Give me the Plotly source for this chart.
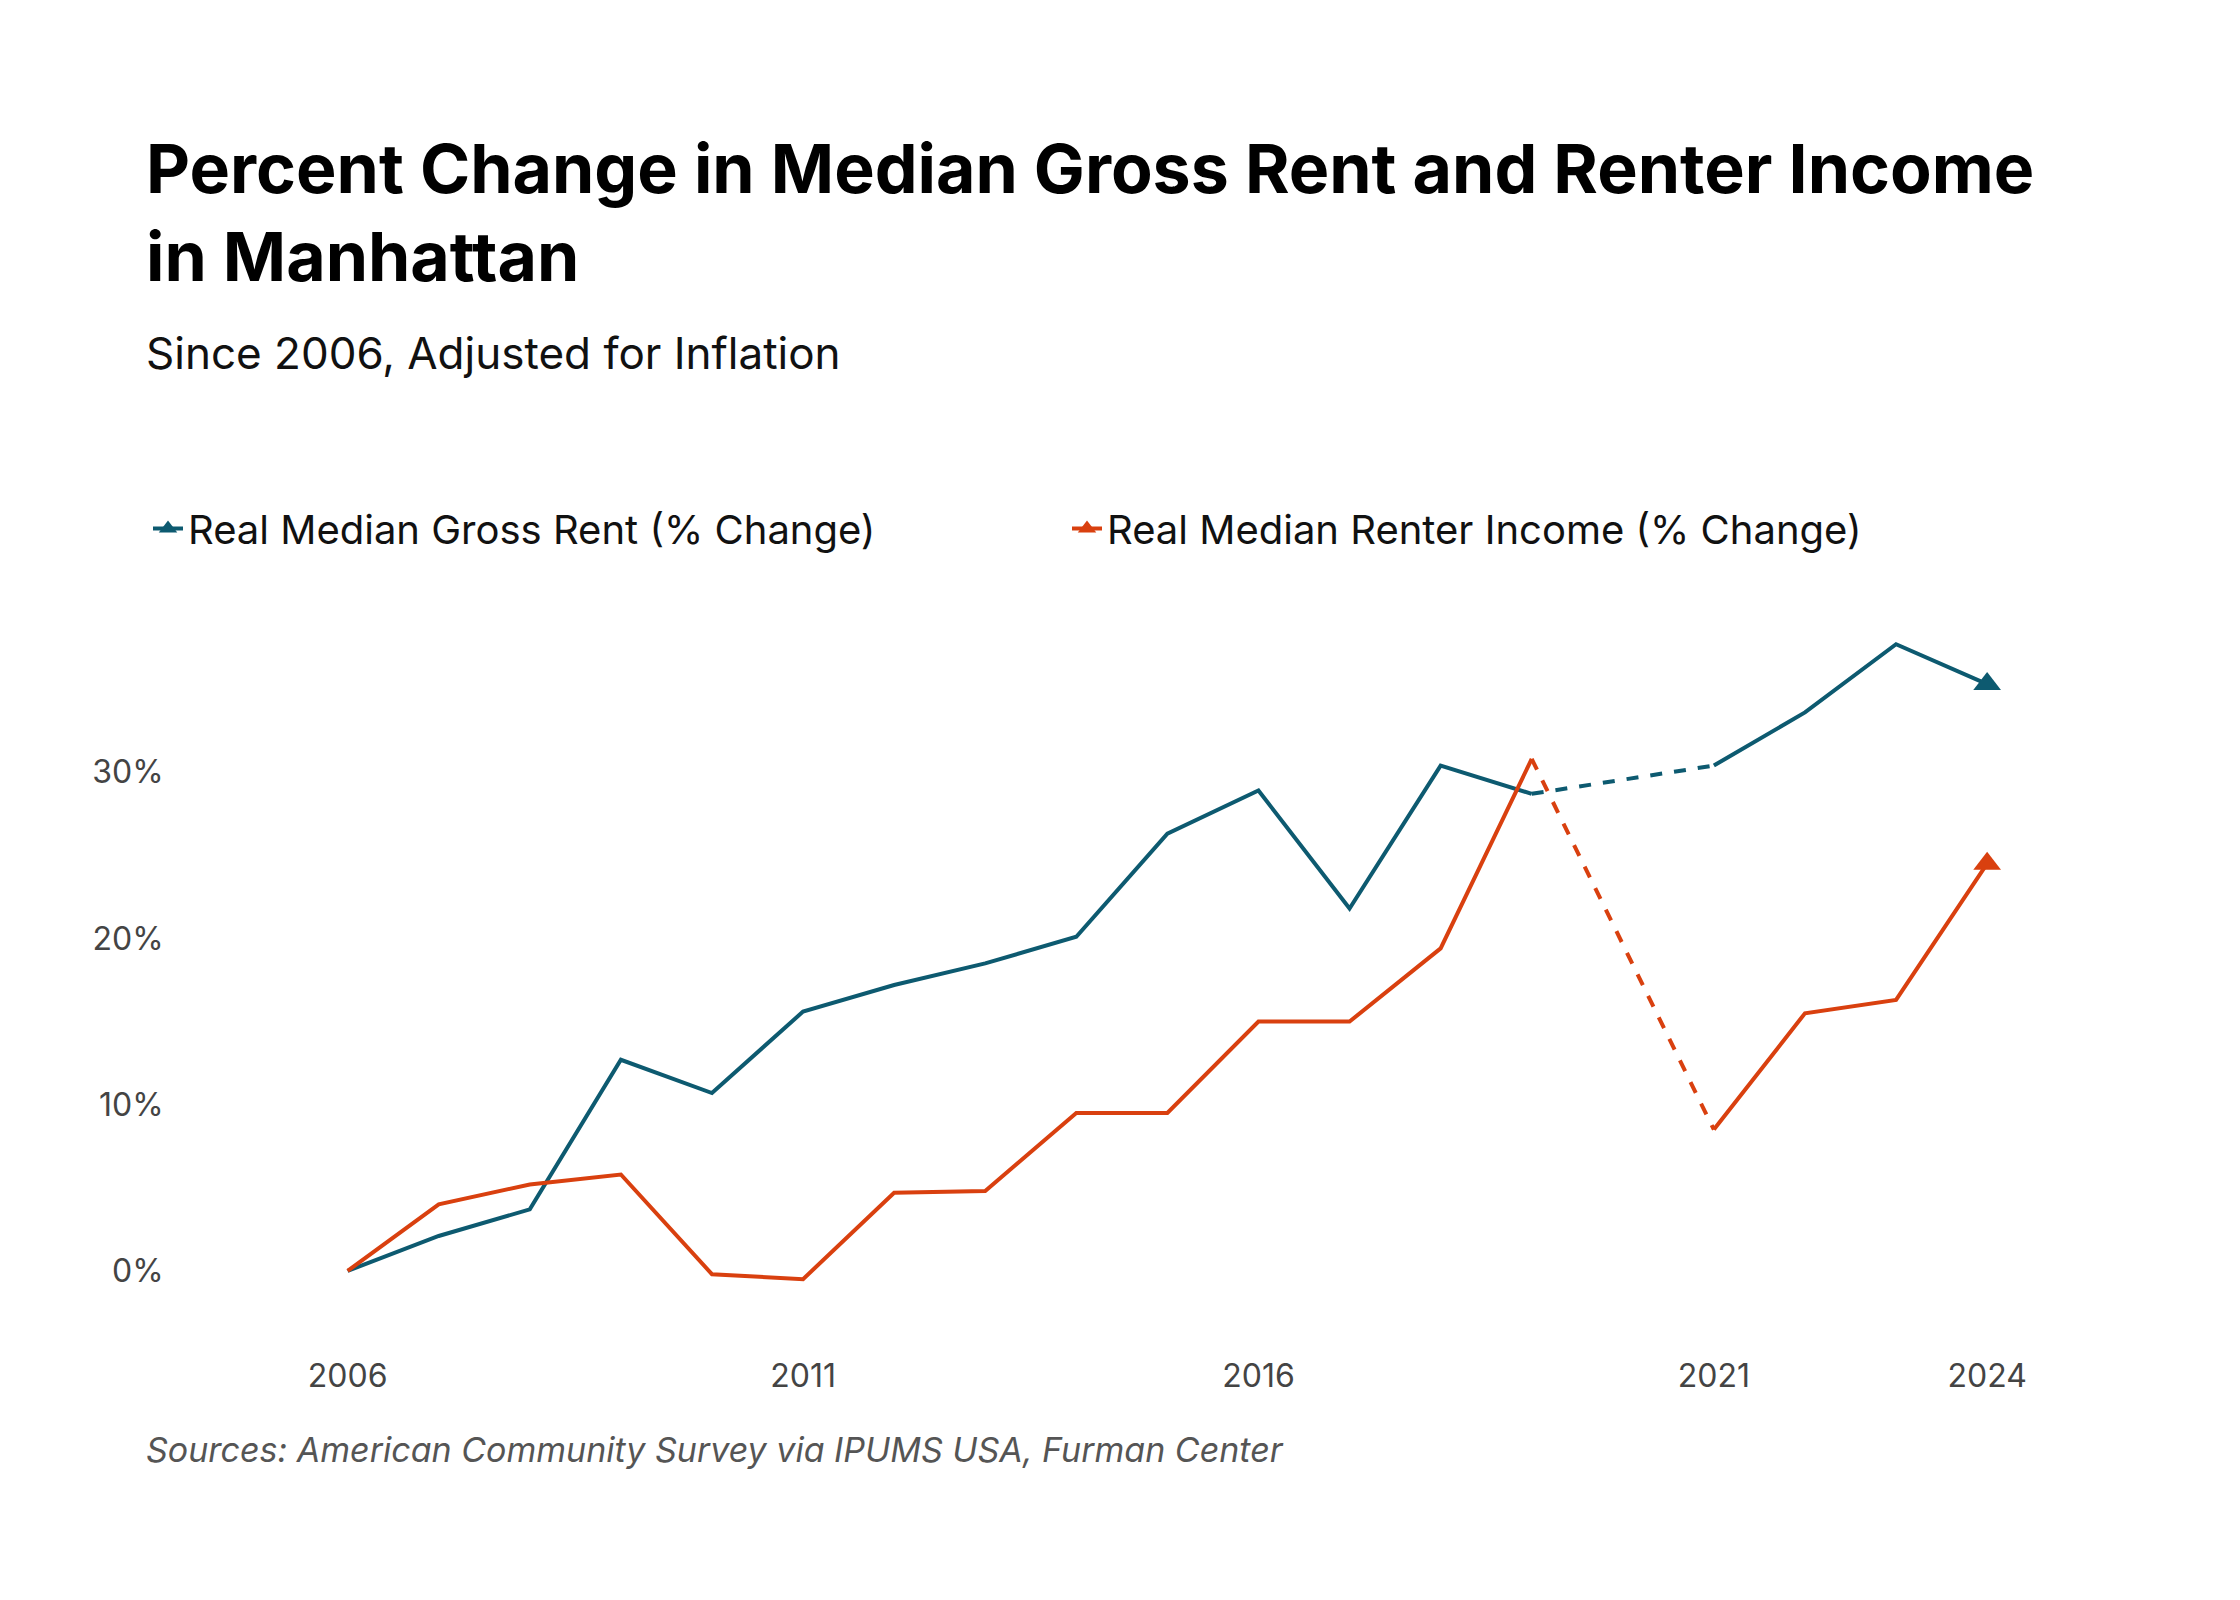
import plotly.graph_objects as go

years_a = [2006,2007,2008,2009,2010,2011,2012,2013,2014,2015,2016,2017,2018,2019]
years_b = [2021,2022,2023,2024]
rent_a = [0.0,2.1,3.7,12.7,10.7,15.6,17.2,18.5,20.1,26.3,28.9,21.8,30.4,28.7]
rent_b = [30.4,33.6,37.7,35.3]
inc_a = [0.0,4.0,5.2,5.8,-0.2,-0.5,4.7,4.8,9.5,9.5,15.0,15.0,19.4,30.8]
inc_b = [8.5,15.5,16.3,24.5]
tick_years = [2006,2011,2016,2021,2024]
y_ticks = [0,10,20,30]
y_labels = ["0%","10%","20%","30%"]

BLUE = "#0d5a70"
ORANGE = "#d9400f"
FONT = "Inter"

fig = go.Figure()
for name, col, a, b in [("Real Median Gross Rent (% Change)", BLUE, rent_a, rent_b),
                        ("Real Median Renter Income (% Change)", ORANGE, inc_a, inc_b)]:
    fig.add_trace(go.Scatter(x=years_a, y=a, mode="lines", line=dict(color=col, width=4), showlegend=False))
    fig.add_trace(go.Scatter(x=[years_a[-1], years_b[0]], y=[a[-1], b[0]], mode="lines",
                             line=dict(color=col, width=4, dash="dash"), showlegend=False))
    fig.add_trace(go.Scatter(x=years_b, y=b, mode="lines", line=dict(color=col, width=4), showlegend=False))
    fig.add_trace(go.Scatter(x=[years_b[-1]], y=[b[-1]], mode="markers",
                             marker=dict(symbol="triangle-up", size=24, color=col), showlegend=False))
    fig.add_trace(go.Scatter(x=[None], y=[None], mode="lines+markers", name=name,
                             line=dict(color=col, width=4), marker=dict(symbol="triangle-up", size=22, color=col)))

L, R, T, B = 203, 188, 598, 254
fig.update_layout(
    width=2240, height=1600, plot_bgcolor="white", paper_bgcolor="white",
    margin=dict(l=L, r=R, t=T, b=B, autoexpand=False),
    font=dict(family=FONT, color="#111"),
    xaxis=dict(range=[2004.5, 2024.8], tickvals=tick_years, showgrid=False, zeroline=False,
               showline=False, tickfont=dict(size=32, color="#444"), ticks="", automargin=False),
    yaxis=dict(range=[-5, 40], tickvals=y_ticks, ticktext=y_labels, showgrid=False, zeroline=False,
               showline=False, tickfont=dict(size=32, color="#444"), ticks="outside",
               ticklen=40, tickcolor="white", automargin=False),
    legend=dict(orientation="h", xanchor="left", yref="paper",
                font=dict(size=40, color="#111"), entrywidth=874, entrywidthmode="pixels",
                traceorder="normal"),
    annotations=[
        dict(text="<b>Percent Change in Median Gross Rent and Renter Income<br>in Manhattan</b>",
             x=136, y=1600-117, showarrow=False, align="left",
             xanchor="left", yanchor="top", font=dict(size=68, color="#000")),
        dict(text="Since 2006, Adjusted for Inflation", x=136, y=1600-316, showarrow=False,
             xanchor="left", yanchor="top", font=dict(size=44, color="#111")),
        dict(text="<i>Sources: American Community Survey via IPUMS USA, Furman Center</i>",
             x=136, y=1600-1419, showarrow=False, xanchor="left", yanchor="top",
             font=dict(size=34, color="#555")),
    ],
)
pw, ph = 2240-L-R, 1600-T-B
for ann in fig.layout.annotations:
    ann.x = (ann.x - L) / pw
    ann.y = (ann.y - B) / ph
    ann.xref = "paper"; ann.yref = "paper"
fig.layout.legend.x = (140 - L) / pw
fig.layout.legend.y = ((1600 - 488) - B) / ph
fig.write_html("out.html")
